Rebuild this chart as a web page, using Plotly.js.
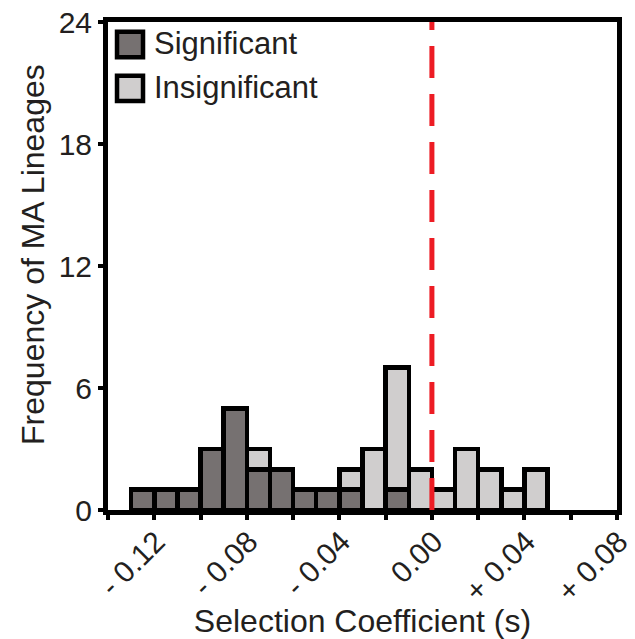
<!DOCTYPE html>
<html>
<head>
<meta charset="utf-8">
<script src="https://cdn.plot.ly/plotly-3.0.1.min.js"></script>
<style>
  html, body { margin: 0; padding: 0; background: #ffffff; }
  #chart { width: 635px; height: 639px; }
</style>
</head>
<body>
<div id="chart"></div>
<script>
// Histogram of selection coefficients, bins of width 0.01 (centres listed)
const binCenters = [-0.125, -0.115, -0.105, -0.095, -0.085, -0.075, -0.065, -0.055, -0.045,
                    -0.035, -0.025, -0.015, -0.005, 0.005, 0.015, 0.025, 0.035, 0.045];
const significant   = [1, 1, 1, 3, 5, 2, 2, 1, 1, 1, 0, 1, 0, 0, 0, 0, 0, 0];
const insignificant = [0, 0, 0, 0, 0, 1, 0, 0, 0, 1, 3, 6, 2, 1, 3, 2, 1, 2];

const seriesNames = ['Significant', 'Insignificant'];
const seriesColors = ['#767171', '#d0cece'];

const xTickVals = [-0.14, -0.12, -0.10, -0.08, -0.06, -0.04, -0.02, 0.00, 0.02, 0.04, 0.06, 0.08];
const xTickText = ['', '- 0.12', '', '- 0.08', '', '- 0.04', '', '0.00', '', '+ 0.04', '', '+ 0.08'];
const yTickVals = [0, 6, 12, 18, 24];

const neutralS = 0; // s = 0 reference

const FONT = '"Liberation Sans", Arial, Helvetica, sans-serif';
const INK = '#231f20';

const barLine = { color: '#000000', width: 4.5 };

const traces = [
  { type: 'bar', name: seriesNames[0], x: binCenters, y: significant,
    marker: { color: seriesColors[0], line: barLine }, showlegend: false, hoverinfo: 'x+y+name' },
  { type: 'bar', name: seriesNames[1], x: binCenters, y: insignificant,
    marker: { color: seriesColors[1], line: barLine }, showlegend: false, hoverinfo: 'x+y+name' }
];

// hand-built legend: large outlined swatches with labels
const legendRows = [0.928, 0.838];
const legendShapes = legendRows.map((y0, i) => ({
  type: 'rect', xref: 'paper', yref: 'paper', layer: 'above',
  x0: 0.0177, x1: 0.0688, y0: y0, y1: y0 + 0.052,
  fillcolor: seriesColors[i], line: { color: '#000000', width: 4.5 }
}));
const legendLabels = legendRows.map((y0, i) => ({
  xref: 'paper', yref: 'paper', x: 0.087, y: y0 + 0.028,
  xanchor: 'left', yanchor: 'middle', showarrow: false,
  text: seriesNames[i], font: { family: FONT, size: 31, color: INK }
}));

// y-axis title, placed as a rotated annotation
const yTitle = {
  xref: 'paper', yref: 'paper', x: -0.147, y: 0.523,
  xanchor: 'center', yanchor: 'middle', textangle: -90, showarrow: false,
  text: 'Frequency of MA Lineages', font: { family: FONT, size: 32, color: INK }
};

const layout = {
  width: 635, height: 639,
  margin: { l: 108, r: 18, t: 22, b: 129 },
  paper_bgcolor: '#ffffff', plot_bgcolor: '#ffffff',
  barmode: 'stack', bargap: 0,
  showlegend: false,
  font: { family: FONT, color: INK },
  xaxis: {
    range: [-0.14, 0.08],
    tickmode: 'array', tickvals: xTickVals, ticktext: xTickText,
    tickangle: -45, ticklabelstandoff: -8, ticklabelshift: 2, ticklabeloverflow: 'allow',
    ticks: 'outside', ticklen: 5, tickwidth: 4, tickcolor: '#000000',
    showline: true, linecolor: '#000000', linewidth: 5, mirror: true,
    showgrid: false, zeroline: false,
    tickfont: { family: FONT, size: 30, color: INK },
    title: { text: 'Selection Coefficient (s)', font: { family: FONT, size: 32, color: INK }, standoff: 8 }
  },
  yaxis: {
    range: [0, 24],
    tickmode: 'array', tickvals: yTickVals,
    ticks: 'outside', ticklen: 5, tickwidth: 4, tickcolor: '#000000',
    showline: true, linecolor: '#000000', linewidth: 5, mirror: true,
    showgrid: false, zeroline: false,
    tickfont: { family: FONT, size: 30, color: INK }
  },
  shapes: [
    { type: 'line', xref: 'x', yref: 'y', layer: 'above',
      x0: neutralS, x1: neutralS, y0: 0, y1: 24,
      line: { color: '#ed1c24', width: 5, dash: '32px,16px' } }
  ].concat(legendShapes),
  annotations: legendLabels.concat([yTitle])
};

Plotly.newPlot('chart', traces, layout, { displayModeBar: false, staticPlot: true });
</script>
</body>
</html>
